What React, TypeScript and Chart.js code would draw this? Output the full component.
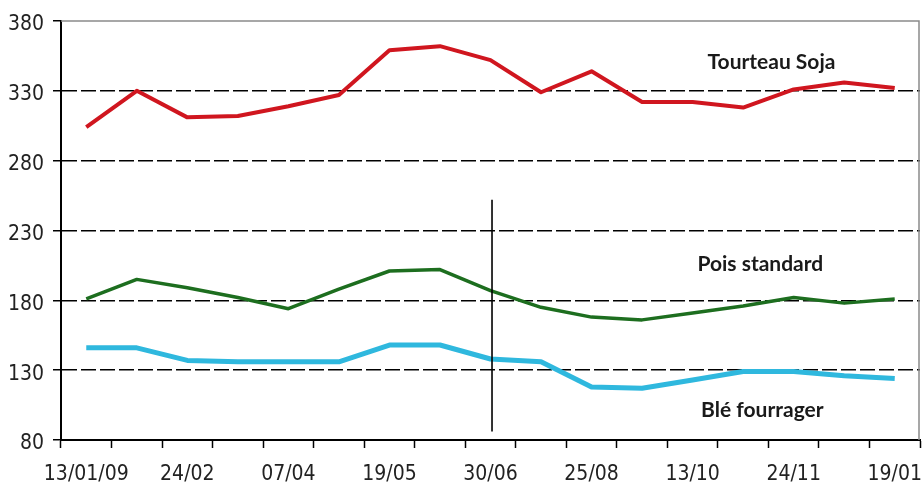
import React, { useEffect, useRef } from "react";
import { Chart, registerables } from "chart.js";

Chart.register(...registerables);

const categories: string[] = [
  "13/01/09", "", "24/02", "", "07/04", "", "19/05", "", "30/06", "",
  "25/08", "", "13/10", "", "24/11", "", "19/01",
];

const tourteauSoja: number[] = [304, 330, 311, 312, 319, 327, 359, 362, 352, 329, 344, 322, 322, 318, 331, 336, 332];
const poisStandard: number[] = [181, 195, 189, 182, 174, 188, 201, 202, 187, 175, 168, 166, 171, 176, 182, 178, 181];
const bleFourrager: number[] = [146, 146, 137, 136, 136, 136, 148, 148, 138, 136, 118, 117, 123, 129, 129, 126, 124];

const yMin = 80;
const yMax = 380;
const yStep = 50;

// annotation labels: [text, x (category index), y (value)]
const annotationTexts: string[] = ["Tourteau Soja", "Pois standard", "Blé fourrager"];
const annotationX: number[] = [13.56, 13.34, 13.38];
const annotationY: number[] = [350.7, 205.7, 101.5];

// vertical marker line: category index and value range
const markerIndex = 8.03;
const markerTop = 252;
const markerBottom = 86;

const TICK_FONT = "'DejaVu Sans Condensed', 'Liberation Sans Narrow', sans-serif";
const NOTE_FONT = "Lato, 'DejaVu Sans', sans-serif";

const overlayPlugin = {
  id: "overlay",
  afterDatasetsDraw(chart: any) {
    const { ctx, chartArea, scales } = chart;
    const x = scales.x;
    const y = scales.y;
    ctx.save();
    // frame (top and right)
    ctx.strokeStyle = "#8a8a8a";
    ctx.lineWidth = 1.5;
    ctx.beginPath();
    ctx.moveTo(chartArea.left, chartArea.top);
    ctx.lineTo(chartArea.right - 1, chartArea.top);
    ctx.lineTo(chartArea.right - 1, chartArea.bottom);
    ctx.stroke();
    // vertical marker
    ctx.strokeStyle = "#000";
    ctx.lineWidth = 1.6;
    ctx.beginPath();
    const mx = x.getPixelForValue(markerIndex);
    ctx.moveTo(mx, y.getPixelForValue(markerTop));
    ctx.lineTo(mx, y.getPixelForValue(markerBottom));
    ctx.stroke();
    // texts
    ctx.fillStyle = "#1a1a1a";
    ctx.font = `bold 21px ${NOTE_FONT}`;
    ctx.textAlign = "center";
    ctx.textBaseline = "middle";
    annotationTexts.forEach((t, i) => {
      ctx.fillText(t, x.getPixelForValue(annotationX[i]), y.getPixelForValue(annotationY[i]));
    });
    ctx.restore();
  },
};

export default function App() {
  const canvasRef = useRef<HTMLCanvasElement | null>(null);

  useEffect(() => {
    if (!canvasRef.current) return;
    const chart = new Chart(canvasRef.current, {
      type: "line",
      data: {
        labels: categories,
        datasets: [
          {
            label: "Tourteau Soja",
            data: tourteauSoja,
            borderColor: "#d0161f",
            borderWidth: 4,
            pointRadius: 0,
            tension: 0,
            borderJoinStyle: "round",
          },
          {
            label: "Pois standard",
            data: poisStandard,
            borderColor: "#1d6e1f",
            borderWidth: 3.5,
            pointRadius: 0,
            tension: 0,
            borderJoinStyle: "round",
          },
          {
            label: "Blé fourrager",
            data: bleFourrager,
            borderColor: "#2fb8de",
            borderWidth: 5,
            pointRadius: 0,
            tension: 0,
            borderJoinStyle: "round",
          },
        ],
      },
      options: {
        animation: false,
        responsive: true,
        maintainAspectRatio: false,
        layout: { padding: { top: 21, right: 4, left: 0, bottom: 0 } },
        plugins: {
          legend: { display: false },
          tooltip: { enabled: false },
        },
        scales: {
          x: {
            offset: true,
            grid: {
              offset: true,
              drawOnChartArea: false,
              drawTicks: true,
              tickLength: 8,
              tickColor: "#000",
              tickWidth: 1.5,
            },
            border: { display: true, color: "#000", width: 2 },
            ticks: {
              autoSkip: false,
              maxRotation: 0,
              minRotation: 0,
              padding: 14,
              color: "#222",
              font: { family: TICK_FONT, size: 21 },
            },
            afterFit(scale: any) {
              scale.height = 50;
              scale.paddingLeft = 0;
              scale.paddingRight = 0;
            },
          },
          y: {
            min: yMin,
            max: yMax,
            ticks: {
              stepSize: yStep,
              padding: 9,
              labelOffset: 4,
              color: "#222",
              font: { family: TICK_FONT, size: 21 },
            },
            grid: {
              color: (c: any) =>
                c.tick && (c.tick.value === yMax || c.tick.value === yMin) ? "rgba(0,0,0,0)" : "#000",
              lineWidth: 1.5,
              tickLength: 8,
              tickColor: "#000",
              tickWidth: 1.5,
              tickBorderDash: [],
            },
            border: { display: true, color: "#000", width: 2, dash: [15, 4] },
            afterFit(scale: any) {
              scale.width = 61;
              scale.paddingTop = 0;
              scale.paddingBottom = 0;
            },
          },
        },
      },
      plugins: [overlayPlugin],
    });
    return () => chart.destroy();
  }, []);

  return (
    <div style={{ position: "fixed", left: 0, top: 0, width: 924, height: 490, background: "#fff" }}>
      <canvas ref={canvasRef} />
    </div>
  );
}
